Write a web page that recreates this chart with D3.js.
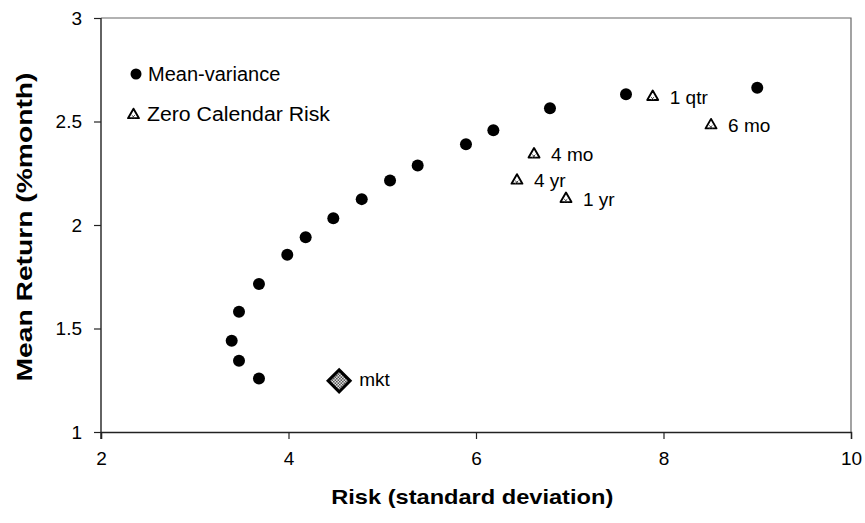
<!DOCTYPE html>
<html>
<head>
<meta charset="utf-8">
<script src="https://cdn.jsdelivr.net/npm/d3@7"></script>
<style>
  body { margin: 0; background: #fff; }
  text { font-family: Arial, "Liberation Sans", sans-serif; fill: #000; }
</style>
</head>
<body>
<svg id="chart" width="865" height="523"></svg>
<script>
// Mean-variance frontier (risk, return)
const mvRisk = [3.685, 3.472, 3.394, 3.472, 3.685, 3.987, 4.183, 4.478, 4.781, 5.083, 5.378, 5.893, 6.185, 6.789, 7.6, 9.0];
const mvReturn = [1.258, 1.344, 1.441, 1.581, 1.715, 1.856, 1.941, 2.033, 2.125, 2.215, 2.287, 2.39, 2.458, 2.564, 2.632, 2.663];

// Zero calendar risk portfolios
const zcrLabels = ["1 qtr", "6 mo", "4 mo", "4 yr", "1 yr"];
const zcrRisk = [7.885, 8.507, 6.619, 6.437, 6.96];
const zcrReturn = [2.619, 2.482, 2.341, 2.215, 2.126];

// Market portfolio
const mktRisk = [4.54];
const mktReturn = [1.247];

const xTicks = [2, 4, 6, 8, 10];
const yTicks = [1, 1.5, 2, 2.5, 3];

const width = 865, height = 523;
const margin = { top: 18, right: 14, bottom: 91, left: 101 };
const plotW = width - margin.left - margin.right;
const plotH = height - margin.top - margin.bottom;

const svg = d3.select("#chart");

// checkered fill for the market diamond
const defs = svg.append("defs");
const pat = defs.append("pattern")
  .attr("id", "check")
  .attr("width", 3).attr("height", 3)
  .attr("patternUnits", "userSpaceOnUse");
pat.append("rect").attr("width", 3).attr("height", 3).attr("fill", "#fff");
pat.append("rect").attr("width", 1.5).attr("height", 1.5).attr("fill", "#333");
pat.append("rect").attr("x", 1.5).attr("y", 1.5).attr("width", 1.5).attr("height", 1.5).attr("fill", "#333");

const g = svg.append("g")
  .attr("transform", `translate(${margin.left},${margin.top})`);

const x = d3.scaleLinear().domain([2, 10]).range([0, plotW]);
const y = d3.scaleLinear().domain([1, 3]).range([plotH, 0]);

// top and right border
g.append("path")
  .attr("d", `M0,0H${plotW}V${plotH}`)
  .attr("fill", "none")
  .attr("stroke", "#666")
  .attr("stroke-width", 1.2);

// axes
const xAxis = g.append("g")
  .attr("transform", `translate(0,${plotH})`)
  .call(d3.axisBottom(x).tickValues(xTicks).tickSize(7).tickPadding(13).tickFormat(d3.format("d")));
const yAxis = g.append("g")
  .call(d3.axisLeft(y).tickValues(yTicks).tickSize(7).tickPadding(12).tickFormat(d => d));

[xAxis, yAxis].forEach(a => {
  a.select(".domain").attr("stroke", "#222").attr("stroke-width", 1.4);
  a.selectAll(".tick line").attr("stroke", "#222").attr("stroke-width", 1.2);
  a.selectAll(".tick text")
    .attr("font-size", 19)
    .attr("font-family", "Arial, 'Liberation Sans', sans-serif")
    .attr("fill", "#000");
});
// extend y axis through the x axis like the original
yAxis.select(".domain").attr("d", `M0,0V${plotH + 7}`);

// axis titles
svg.append("text")
  .attr("x", margin.left + x(5.96))
  .attr("y", 504)
  .attr("text-anchor", "middle")
  .attr("font-size", 20.5)
  .attr("font-weight", "bold")
  .attr("textLength", 282)
  .attr("lengthAdjust", "spacingAndGlyphs")
  .text("Risk (standard deviation)");

svg.append("text")
  .attr("transform", "translate(32,227) rotate(-90)")
  .attr("text-anchor", "middle")
  .attr("font-size", 22)
  .attr("font-weight", "bold")
  .attr("textLength", 309)
  .attr("lengthAdjust", "spacingAndGlyphs")
  .text("Mean Return (%month)");

// mean-variance circles
g.selectAll(".mv")
  .data(d3.range(mvRisk.length))
  .enter()
  .append("circle")
  .attr("class", "mv")
  .attr("cx", i => x(mvRisk[i]))
  .attr("cy", i => y(mvReturn[i]))
  .attr("r", 6)
  .attr("fill", "#000");

// triangle marker: outline plus a small hatch mark inside
const triPath = d3.symbol().type(d3.symbolTriangle).size(52);
function drawTriangle(sel) {
  sel.append("path")
    .attr("d", triPath)
    .attr("fill", "#fff")
    .attr("stroke", "#000")
    .attr("stroke-width", 1.9)
    .attr("stroke-linejoin", "round");
  sel.append("path")
    .attr("d", "M-1.8,0.2L1.4,3.2M1.4,0.2L-1.8,3.2")
    .attr("stroke", "#444")
    .attr("stroke-width", 1);
}

const zcr = g.selectAll(".zcr")
  .data(d3.range(zcrLabels.length))
  .enter()
  .append("g")
  .attr("class", "zcr")
  .attr("transform", i => `translate(${x(zcrRisk[i])},${y(zcrReturn[i])})`);
zcr.call(drawTriangle);
zcr.append("text")
  .attr("x", 17)
  .attr("y", 7)
  .attr("font-size", 19)
  .text(i => zcrLabels[i]);

// market portfolio
const mkt = g.selectAll(".mkt")
  .data(d3.range(mktRisk.length))
  .enter()
  .append("g")
  .attr("class", "mkt")
  .attr("transform", i => `translate(${x(mktRisk[i])},${y(mktReturn[i])})`);
mkt.append("path")
  .attr("d", "M0,-11L11,0L0,11L-11,0Z")
  .attr("fill", "url(#check)")
  .attr("stroke", "#000")
  .attr("stroke-width", 3);
mkt.append("text")
  .attr("x", 20)
  .attr("y", 5)
  .attr("font-size", 19)
  .text("mkt");

// legend
const legend = svg.append("g").attr("class", "legend-group");
legend.append("circle")
  .attr("cx", 136).attr("cy", 74).attr("r", 5.5).attr("fill", "#000");
legend.append("text")
  .attr("x", 148).attr("y", 81)
  .attr("font-size", 20)
  .text("Mean-variance");
legend.append("g")
  .attr("transform", "translate(133.5,115)")
  .call(drawTriangle);
legend.append("text")
  .attr("x", 147).attr("y", 121)
  .attr("font-size", 20)
  .attr("textLength", 183)
  .attr("lengthAdjust", "spacingAndGlyphs")
  .text("Zero Calendar Risk");
</script>
</body>
</html>
